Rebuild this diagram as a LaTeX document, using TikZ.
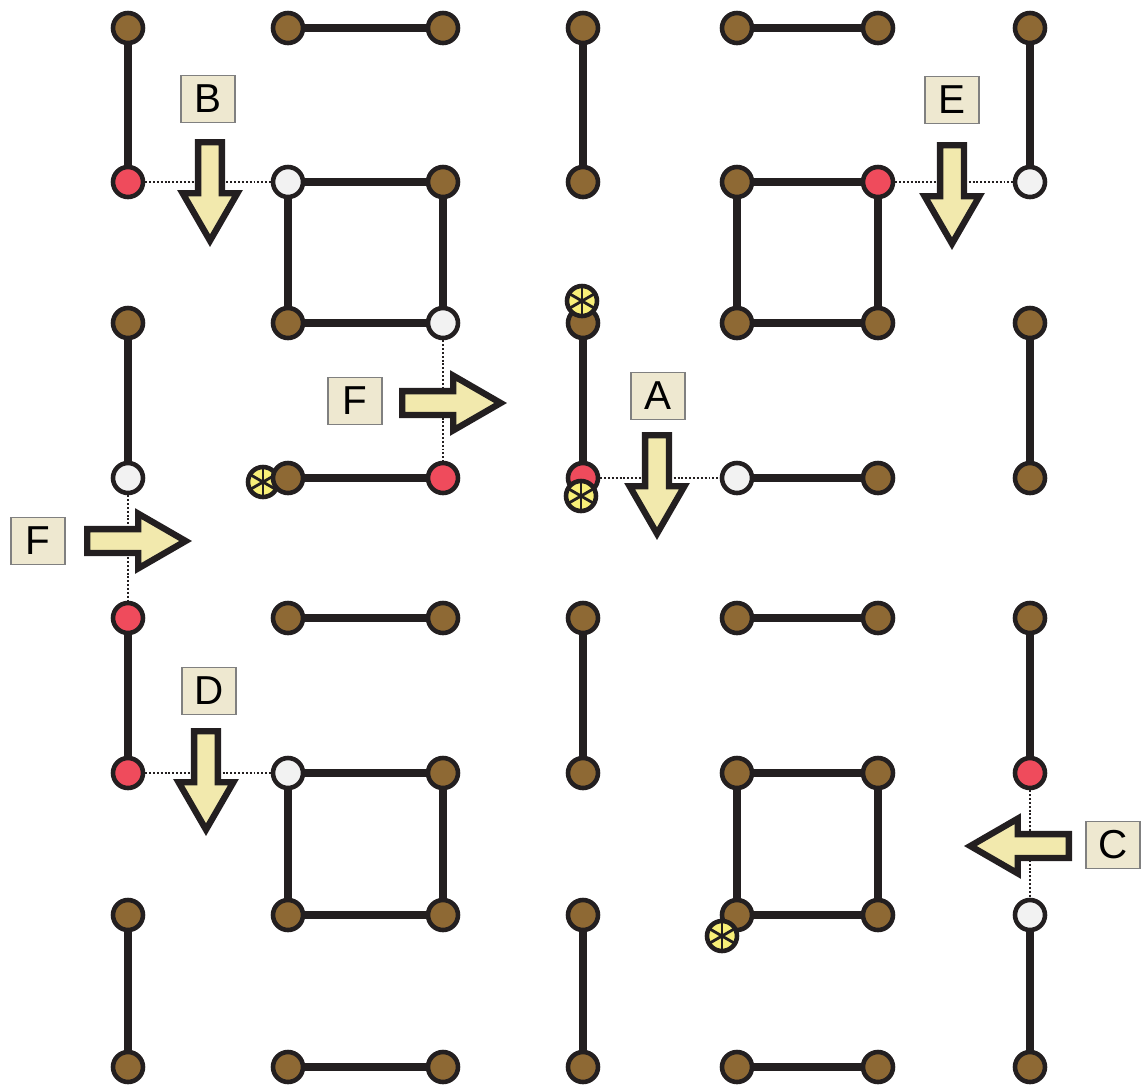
\documentclass[tikz,border=0pt]{standalone}
\usepackage{fontspec}
\setmainfont{Liberation Sans}
\usetikzlibrary{shapes.arrows,backgrounds,positioning}
\definecolor{cline}{HTML}{231F20}
\definecolor{cbrn}{HTML}{8E6934}
\definecolor{cred}{HTML}{EF4B5C}
\definecolor{cwht}{HTML}{F2F2F2}
\definecolor{cyel}{HTML}{F8EF78}
\definecolor{carr}{HTML}{F2E9AD}
\definecolor{clab}{HTML}{EEE8D0}
\tikzset{
  dot/.style={circle,draw=cline,line width=2.6pt,minimum size=0.6cm,inner sep=0pt},
  edge/.style={draw=cline,line width=4.2pt},
  link/.style={draw=cline,line width=1.1pt,dash pattern=on 1.1pt off 1.1pt},
  astr/.style={circle,draw=cline,fill=cyel,line width=2.6pt,minimum size=0.6cm,inner sep=0pt,
    path picture={\foreach \a in {90,30,150}
      \draw[cline,line width=1.6pt] (path picture bounding box.center) +(\a:0.4cm) -- +(\a+180:0.4cm);}},
  bigarr/.style={single arrow,draw=cline,fill=carr,line width=3.6pt,inner sep=0.175cm,
    minimum height=1.97cm,minimum width=0.97cm,single arrow head extend=0.31cm,
    single arrow tip angle=60,single arrow head indent=0pt,anchor=tail},
  lab/.style={draw=black!50,line width=0.6pt,fill=clab,minimum width=1.08cm,minimum height=0.94cm,
    inner sep=0pt,font=\fontsize{23}{27}\selectfont},
}

\begin{document}
\begin{tikzpicture}[x=0.02cm,y=-0.02cm]
\useasboundingbox (0,0) rectangle (1144,1090);

% ================= lattice points =================
\foreach \r/\y/\ks in {
  1/28/{cbrn,cbrn,cbrn,cbrn,cbrn,cbrn,cbrn},
  2/182/{cred,cwht,cbrn,cbrn,cbrn,cred,cwht},
  3/323/{cbrn,cbrn,cwht,cbrn,cbrn,cbrn,cbrn},
  4/478/{cwht,cbrn,cred,cred,cwht,cbrn,cbrn},
  5/618/{cred,cbrn,cbrn,cbrn,cbrn,cbrn,cbrn},
  6/773/{cred,cwht,cbrn,cbrn,cbrn,cbrn,cred},
  7/915/{cbrn,cbrn,cbrn,cbrn,cbrn,cbrn,cwht},
  8/1067/{cbrn,cbrn,cbrn,cbrn,cbrn,cbrn,cbrn}}
  \foreach \k [count=\c] in \ks {
    \pgfmathsetmacro\x{{128,288,443,583,737,878,1030}[\c-1]}
    \node[dot,fill=\k] (p\c\r) at (\x,\y) {};
  }

% ================= bonds =================
\begin{scope}[on background layer]
  \foreach \c in {1,4,7}
    \foreach \r/\s in {1/2,3/4,5/6,7/8}
      \draw[edge] (p\c\r) -- (p\c\s);
  \foreach \c/\d in {2/3,5/6}{
    \foreach \r in {1,4,5,8}
      \draw[edge] (p\c\r) -- (p\d\r);
    \foreach \r/\s in {2/3,6/7}
      \draw[edge] (p\c\r) -- (p\d\r) -- (p\d\s) -- (p\c\s) -- (p\c\r);
  }
  % broken bonds
  \draw[link] (p12) -- (p22);
  \draw[link] (p62) -- (p72);
  \draw[link] (p33) -- (p34);
  \draw[link] (p44) -- (p54);
  \draw[link] (p14) -- (p15);
  \draw[link] (p16) -- (p26);
  \draw[link] (p76) -- (p77);
  \node[astr] (s4) at (263,482) {};
\end{scope}

% ================= markers =================
\node[astr] (s1) at (582,301) {};
\node[astr] (s2) at (581,496) {};
\node[astr] (s3) at (722,936) {};

% ================= moves =================
\node[bigarr,shape border rotate=270] (arB) at (210,139) {};
\node[bigarr,shape border rotate=270] (arE) at (952,142) {};
\node[bigarr,shape border rotate=0] (arF1) at (399,403) {};
\node[bigarr,shape border rotate=270] (arA) at (657,432) {};
\node[bigarr,shape border rotate=0] (arF2) at (84,541) {};
\node[bigarr,shape border rotate=270] (arD) at (206,728) {};
\node[bigarr,shape border rotate=180] (arC) at (1072,846) {};

\node[lab] (lB) at (208,99) {B};
\node[lab] (lE) at (952,100) {E};
\node[lab] (lF1) at (355,401) {F};
\node[lab] (lA) at (658,396) {A};
\node[lab] (lF2) at (38,541) {F};
\node[lab] (lD) at (209,691) {D};
\node[lab] (lC) at (1113,845) {C};
\end{tikzpicture}
\end{document}
